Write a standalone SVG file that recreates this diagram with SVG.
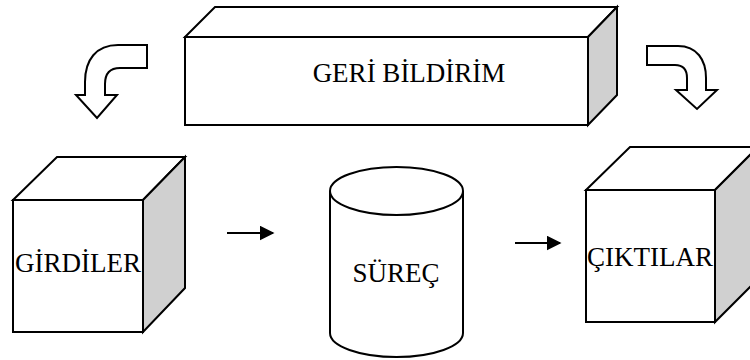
<svg xmlns="http://www.w3.org/2000/svg" width="750" height="360" viewBox="0 0 750 360">
<defs>
<style>
.face{fill:#ffffff;stroke:#000;stroke-width:2;stroke-linejoin:miter}
.side{fill:#d0d0d0;stroke:#000;stroke-width:2}
.lbl{font-family:"Liberation Serif","Times New Roman",serif;font-size:27px;fill:#000;text-anchor:middle}
.bend{fill:#fff;stroke:#000;stroke-width:2;stroke-linejoin:miter}
.conn{stroke:#000;stroke-width:2;fill:none}
</style>
<marker id="ah" viewBox="0 0 10 10" refX="9" refY="5" markerWidth="7.5" markerHeight="7.5" markerUnits="strokeWidth" orient="auto">
<path d="M0,0 L10,5 L0,10 Z" fill="#000"/>
</marker>
</defs>
<rect width="750" height="360" fill="#fff"/>

<g id="geri-bildirim">
<polygon class="face" points="185,37 215,7 617,7 588,37"/>
<polygon class="side" points="588,37 617,7 617,95 588,125"/>
<rect class="face" x="185" y="37" width="403" height="88"/>
<text class="lbl" x="409" y="82">GERİ BİLDİRİM</text>
</g>

<g id="girdiler">
<polygon class="face" points="13,200 57,157 185,157 143,200"/>
<polygon class="side" points="143,200 185,157 185,288 143,332"/>
<rect class="face" x="13" y="200" width="130" height="132"/>
<text class="lbl" x="78" y="272">GİRDİLER</text>
</g>

<g id="surec">
<path class="face" d="M330,191 L330,333 A66.5,24 0 0 0 463,333 L463,191"/>
<ellipse class="face" cx="396.5" cy="191" rx="66.5" ry="24"/>
<text class="lbl" x="396" y="282">SÜREÇ</text>
</g>

<g id="ciktilar">
<polygon class="face" points="586,190 630,147 758,147 715,190"/>
<polygon class="side" points="715,190 758,147 758,279 715,322"/>
<rect class="face" x="586" y="190" width="129" height="132"/>
<text class="lbl" x="650" y="266">ÇIKTILAR</text>
</g>

<g id="connectors">
<path class="bend" d="M147,45 L118,45 C96,45 85,60 85,82 L85,95 L76,95 L97,118 L117,95 L105,95 L105,84 C105,74 110,68 120,68 L147,68 Z"/>
<path class="bend" d="M647,46 L678,46 C697,46 706,60 706,78 L706,90 L717,90 L697,109 L676,90 L687,90 L687,78 C687,70 683,65 675,65 L647,65 Z"/>
<line class="conn" x1="227" y1="233" x2="273" y2="233" marker-end="url(#ah)"/>
<line class="conn" x1="515" y1="243" x2="560" y2="243" marker-end="url(#ah)"/>
</g>
</svg>
